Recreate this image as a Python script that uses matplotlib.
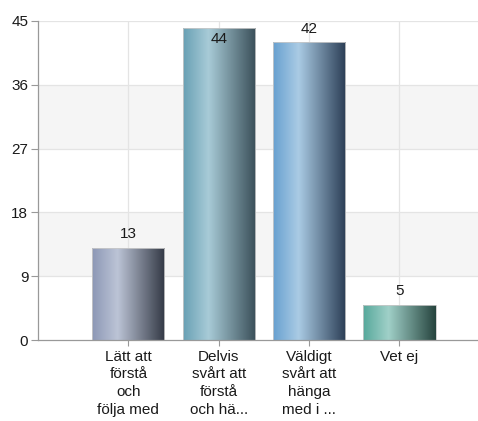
import numpy as np
import matplotlib
matplotlib.use("Agg")
import matplotlib.pyplot as plt
from matplotlib.colors import LinearSegmentedColormap

plt.rcParams["font.family"] = ["Liberation Sans", "DejaVu Sans"]

categories = ["Lätt att\nförstå\noch\nfölja med",
              "Delvis\nsvårt att\nförstå\noch hä...",
              "Väldigt\nsvårt att\nhänga\nmed i ...",
              "Vet ej"]
values = [13, 44, 42, 5]
yticks = [0, 9, 18, 27, 36, 45]

# gradient stops per bar: left, highlight, right
gradients = [
    ["#8c97b5", "#bcc4d6", "#333945"],
    ["#68a0b4", "#a8cbd7", "#3a4f59"],
    ["#67a0d0", "#aacbe4", "#2b3d55"],
    ["#56a89b", "#a0d0c8", "#26443e"],
]

fig = plt.figure(figsize=(4.78, 4.21), dpi=100)
ax = fig.add_axes([38 / 478, 1 - 340 / 421, 1 - 38 / 478, 319 / 421])

x = np.arange(1, len(values) + 1)
ax.set_xlim(0, 4.87)
ax.set_ylim(0, 45)

# alternating bands
for lo in (9, 27):
    ax.axhspan(lo, lo + 9, color="#f5f5f5", zorder=0, lw=0)
for t in yticks[1:]:
    ax.axhline(t, color="#e4e4e4", lw=0.9, zorder=0.5)
for xi in x:
    ax.axvline(xi, color="#e4e4e4", lw=0.9, zorder=0.5)

bars = ax.bar(x, values, width=0.8, color="none", edgecolor="#c8c8c8",
              lw=0.6, zorder=2)
grad = np.linspace(0, 1, 256).reshape(1, -1)
for b, stops in zip(bars, gradients):
    cmap = LinearSegmentedColormap.from_list(
        "g", [(0, stops[0]), (0.35, stops[1]), (1, stops[2])])
    x0, y0 = b.get_x(), b.get_y()
    im = ax.imshow(grad, cmap=cmap, aspect="auto", zorder=1.5,
                   extent=[x0, x0 + b.get_width(), y0, y0 + b.get_height()])
    im.set_clip_path(b)

for xi, v in zip(x, values):
    if v > 43:
        ax.text(xi, v - 0.6, str(v), ha="center", va="top", fontsize=11,
                color="#1a1a1a", zorder=3)
    else:
        ax.text(xi, v + 0.9, str(v), ha="center", va="bottom", fontsize=11,
                color="#1a1a1a", zorder=3)

ax.set_xticks(x)
ax.set_xticklabels(categories, fontsize=11, linespacing=1.34, va="top")
ax.set_yticks(yticks)
ax.tick_params(axis="y", labelsize=11, length=5, color="#999999",
               labelcolor="#1a1a1a", pad=2)
ax.tick_params(axis="x", length=4, color="#999999", labelcolor="#1a1a1a",
               pad=3)
for s in ("top", "right"):
    ax.spines[s].set_visible(False)
for s in ("left", "bottom"):
    ax.spines[s].set_color("#999999")
    ax.spines[s].set_linewidth(0.9)

fig.savefig("out.png", dpi=100)
